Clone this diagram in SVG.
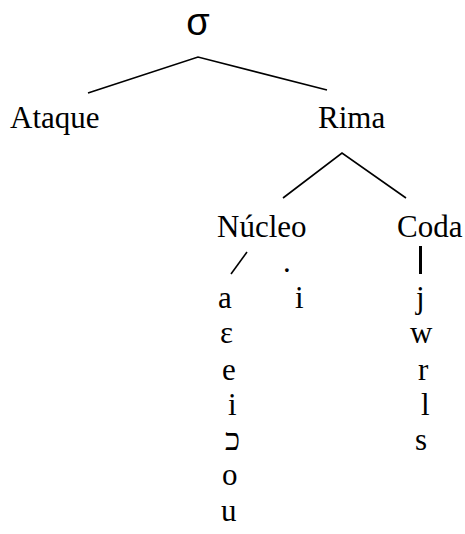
<svg xmlns="http://www.w3.org/2000/svg" width="465" height="534" viewBox="0 0 465 534">
<style>
.t{font-family:"Liberation Serif","Times New Roman",serif;font-size:31px;fill:#000}
.s{font-family:"Liberation Sans",Arial,sans-serif;font-size:38px;fill:#000}
.c{stroke:#000;stroke-width:1.6;fill:none}
</style>
<rect width="465" height="534" fill="#fff"/>
<g id="connectors">
<polyline class="c" points="88,93 198,57 327,90"/>
<polyline class="c" points="283,198 342,153 406,198"/>
<line class="c" x1="247" y1="252" x2="231" y2="274"/>
<line x1="420.5" y1="246" x2="420.5" y2="274" stroke="#000" stroke-width="3"/>
</g>
<g id="sigma"><text class="s" x="198" y="35" text-anchor="middle">σ</text></g>
<g id="ataque"><text class="t" x="10" y="128">Ataque</text></g>
<g id="rima"><text class="t" x="318" y="128">Rima</text></g>
<g id="nucleo"><text class="t" x="217" y="237">Núcleo</text></g>
<g id="coda"><text class="t" x="397" y="237">Coda</text></g>
<g id="dot"><text class="t" x="283" y="272">.</text></g>
<g id="vowels">
<text class="t" x="218" y="308">a</text>
<text class="t" x="220" y="343">ε</text>
<text class="t" x="222" y="380">e</text>
<text class="t" x="228" y="415">i</text>
<text class="t" x="225" y="450">כ</text>
<text class="t" x="222" y="485">o</text>
<text class="t" x="221" y="521">u</text>
</g>
<g id="glide"><text class="t" x="295" y="308">i</text></g>
<g id="codas">
<text class="t" x="416" y="308">j</text>
<text class="t" x="410" y="343">w</text>
<text class="t" x="418" y="380">r</text>
<text class="t" x="421" y="415">l</text>
<text class="t" x="415" y="450">s</text>
</g>
</svg>
